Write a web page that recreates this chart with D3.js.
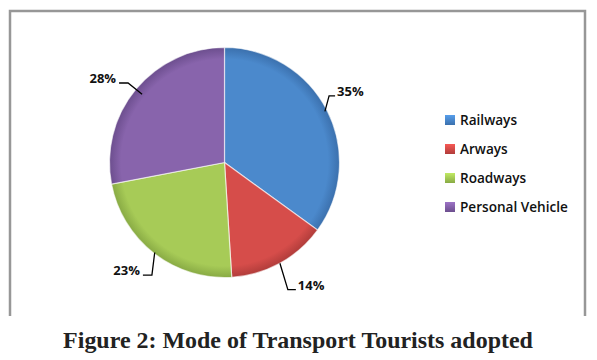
<!DOCTYPE html>
<html><head><meta charset="utf-8">
<script src="https://cdn.jsdelivr.net/npm/d3@7"></script>
<style>html,body{margin:0;padding:0;background:#fff;}svg{display:block;}</style>
</head><body>
<svg id="chart" width="597" height="360"></svg>
<script>
const categories = ["Railways", "Arways", "Roadways", "Personal Vehicle"];
const values = [35, 14, 23, 28];
const labels = ["35%", "14%", "23%", "28%"];
const colors = ["#4b89cc", "#d64d4a", "#a7cb57", "#8864ac"];
const darkColors = ["#3b70ad", "#b03c3a", "#88aa44", "#6c4e8e"];
const title = "Figure 2: Mode of Transport Tourists adopted";

const svg = d3.select("#chart");
const cx = 224.5, cy = 162.5, R = 115;

// frame (open at bottom)
svg.append("path")
  .attr("d", "M10,316 L10,11 L585,11 L585,316")
  .attr("fill", "none").attr("stroke", "#979797").attr("stroke-width", 2.5);

const defs = svg.append("defs");
colors.forEach((c, i) => {
  const g = defs.append("radialGradient").attr("id", "g" + i)
    .attr("gradientUnits", "userSpaceOnUse")
    .attr("cx", 0).attr("cy", 0).attr("r", R);
  g.append("stop").attr("offset", "0%").attr("stop-color", c);
  g.append("stop").attr("offset", "90%").attr("stop-color", c);
  g.append("stop").attr("offset", "100%").attr("stop-color", darkColors[i]);
  const lg = defs.append("linearGradient").attr("id", "lg" + i)
    .attr("x1", 0).attr("y1", 0).attr("x2", 0).attr("y2", 1);
  lg.append("stop").attr("offset", "0%").attr("stop-color", d3.color(c).brighter(0.4));
  lg.append("stop").attr("offset", "100%").attr("stop-color", darkColors[i]);
});

const pie = d3.pie().sort(null).value(d => d)(values);
const arc = d3.arc().innerRadius(0).outerRadius(R);
const g = svg.append("g").attr("transform", `translate(${cx},${cy})`);
g.selectAll("path.slice").data(pie).join("path")
  .attr("class", "slice")
  .attr("d", arc)
  .attr("fill", (d, i) => `url(#g${i})`)
  .attr("stroke", "rgba(255,255,255,0.6)")
  .attr("stroke-width", 1.2);

// leader lines & labels (elbow radii / angles are layout, not data)
const leaderLayout = [
  {r0: 0.98, er: 124, ea: 57.5, dx: 6, anchor: "start"},
  {r0: 1.0, er: 142, ea: 153.5, dx: 8, anchor: "start"},
  {r0: 0.99, er: 134, ea: 212.8, dx: -9, anchor: "end"},
  {r0: 0.93, er: 125, ea: 309.5, dx: -9, anchor: "end"}
];
const deg = Math.PI / 180;
pie.forEach((d, i) => {
  const L = leaderLayout[i];
  const mid = (d.startAngle + d.endAngle) / 2;
  const p0 = [Math.sin(mid) * R * L.r0, -Math.cos(mid) * R * L.r0];
  const p1 = [Math.sin(L.ea * deg) * L.er, -Math.cos(L.ea * deg) * L.er];
  const p2 = [p1[0] + L.dx, p1[1]];
  g.append("polyline")
    .attr("points", [p0, p1, p2].map(p => p.join(",")).join(" "))
    .attr("fill", "none").attr("stroke", "#000").attr("stroke-width", 1.3);
  g.append("text")
    .attr("x", p2[0] + (L.dx > 0 ? 2 : -3)).attr("y", p2[1])
    .attr("text-anchor", L.anchor)
    .attr("font-family", "'Open Sans', sans-serif").attr("font-weight", 700)
    .attr("font-size", 13).attr("fill", "#111")
    .text(labels[i]);
});

// legend
const leg = svg.append("g").attr("transform", "translate(445,120)");
const rows = leg.selectAll("g").data(categories).join("g")
  .attr("transform", (d, i) => `translate(0,${i * 29})`);
rows.append("rect").attr("x", 0).attr("y", -5).attr("width", 10).attr("height", 10)
  .attr("fill", (d, i) => `url(#lg${i})`);
const legText = rows.append("text").attr("x", 15).attr("y", 0).attr("dy", "0.36em")
  .attr("font-family", "'Open Sans', sans-serif").attr("font-weight", 600)
  .attr("font-size", 14).attr("fill", "#111")
  .text(d => d);
const wPV = legText.nodes()[3].getComputedTextLength();
legText.attr("font-size", 14 * 108 / wPV);

// caption
const cap = svg.append("text").attr("x", 298).attr("y", 348)
  .attr("text-anchor", "middle")
  .attr("font-family", "'Liberation Serif', 'Times New Roman', serif")
  .attr("font-weight", 700).attr("font-size", 20).attr("fill", "#222")
  .text(title);
const wc = cap.node().getComputedTextLength();
cap.attr("font-size", 20 * 470 / wc);
</script>
</body></html>
